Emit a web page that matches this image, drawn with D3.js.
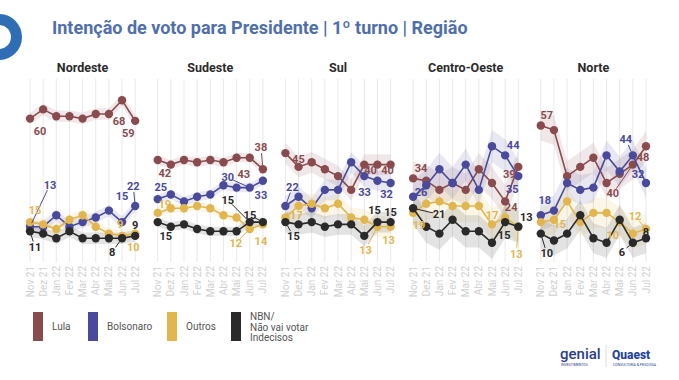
<!DOCTYPE html>
<html><head><meta charset="utf-8">
<script src="https://cdn.jsdelivr.net/npm/d3@7"></script>
<style>
body{margin:0;background:#fff;}
svg{display:block;font-family:Roboto,"Noto Sans",sans-serif;}
</style></head>
<body><svg id="c" width="679" height="380"></svg>
<script>
const months = ["Nov 21","Dez 21","Jan 22","Fev 22","Mar 22","Abr 22","Mai 22","Jun 22","Jul 22"];
const regions = ["Nordeste","Sudeste","Sul","Centro-Oeste","Norte"];
const seriesNames = ["Lula","Bolsonaro","Outros","NBN/ Não vai votar Indecisos"];
const seriesColors = ["#8a4b4f","#4a4a9c","#e2b64e","#2a2a2a"];

const lula      = [[60,64,61,61,60,62,62,68,59],[42,40,42,41,42,41,43,43,38],[45,39,41,38,35,29,40,40,40],[34,33,29,32,29,38,32,24,39],[57,55,35,39,43,32,36,40,48]];
const bolsonaro = [[13,13,18,13,15,17,20,15,22],[25,27,24,26,27,31,30,30,33],[22,26,21,29,29,41,35,33,32],[26,31,38,32,40,29,48,44,35],[18,20,32,29,30,44,37,44,32]];
const outros    = [[15,14,12,16,18,13,10,9,10],[19,21,21,22,21,18,17,12,14],[17,22,23,21,23,17,16,13,13],[19,23,24,22,22,22,14,17,13],[15,16,24,15,19,19,15,10,12]];
const nbn       = [[11,10,8,11,8,8,8,8,9],[15,13,14,12,11,11,11,15,15],[15,14,15,13,14,14,9,15,15],[21,13,10,16,11,11,6,15,13],[10,7,10,18,8,6,16,6,8]];
// margin of error (points) per region, used for shaded bands
const marginOfError = [2.5, 2, 4.5, 7, 6.5];

// label annotations: [region, series, index, text, dx, dy, leader]
const labels = [
 [0,0,0,"60",10,13,0],[0,0,7,"68",-3,21,0],[0,0,8,"59",-7,12,0],
 [0,1,0,"13",20,-42,1],[0,1,7,"15",0,-26,0],[0,1,8,"22",-2,-20,1],
 [0,2,0,"15",5,-12,0],[0,2,7,"9",-2,-12,0],[0,2,8,"10",-2,14,0],
 [0,3,0,"11",5,16,1],[0,3,7,"8",-10,14,1],[0,3,8,"9",0,-11,0],
 [1,0,0,"42",7,13,0],[1,0,7,"43",-6,16,0],[1,0,8,"38",-2,-22,1],
 [1,1,0,"25",3,-12,0],[1,1,7,"30",-22,-10,1],[1,1,8,"33",-2,14,0],
 [1,2,0,"19",7,-9,0],[1,2,7,"12",-14,14,1],[1,2,8,"14",-2,17,0],
 [1,3,0,"15",8,14,0],[1,3,7,"15",-22,-22,1],[1,3,8,"15",-13,-7,1],
 [2,0,0,"45",13,6,0],[2,0,7,"40",-7,6,0],[2,0,8,"40",-3,6,0],
 [2,1,0,"22",7,-19,1],[2,1,7,"33",-13,11,0],[2,1,8,"32",-4,11,0],
 [2,2,0,"17",11,-2,0],[2,2,7,"13",-12,23,1],[2,2,8,"13",-2,13,0],
 [2,3,0,"15",8,14,1],[2,3,7,"15",-3,-12,0],[2,3,8,"15",0,-10,0],
 [3,0,0,"34",8,-10,0],[3,0,7,"24",6,6,0],[3,0,8,"39",-9,7,0],
 [3,1,0,"26",8,-5,0],[3,1,7,"44",8,-10,0],[3,1,8,"35",-6,13,0],
 [3,2,0,"19",6,12,0],[3,2,7,"17",-13,-2,0],[3,2,8,"13",-2,27,1],
 [3,3,0,"21",26,6,1],[3,3,7,"15",-1,13,0],[3,3,8,"13",8,-10,0],
 [4,0,0,"57",6,-10,0],[4,0,7,"40",-20,29,1],[4,0,8,"48",-3,11,0],
 [4,1,0,"18",4,-15,0],[4,1,7,"44",-7,-16,1],[4,1,8,"32",-8,-9,0],
 [4,2,0,"15",19,2,0],[4,2,7,"10",-20,2,0],[4,2,8,"12",-11,-13,1],
 [4,3,0,"10",6,20,1],[4,3,7,"6",-11,9,1],[4,3,8,"8",0,-6,0]
];

const allSeries = [lula, bolsonaro, outros, nbn];
const svg = d3.select("#c");

// decorative ring
svg.append("circle").attr("cx",-1).attr("cy",37).attr("r",17.5)
  .attr("fill","none").attr("stroke","#2f6db5").attr("stroke-width",11);

svg.append("text").attr("x",52).attr("y",34).attr("fill","#4f6fac")
  .attr("font-size",18).attr("font-weight",700)
  .text("Intenção de voto para Presidente | 1º turno | Região");

const y = d3.scaleLinear().domain([0,60]).range([256.6,118.6]);
const panelX0 = 30, panelStep = 127.7, panelW = 105.2;

regions.forEach((reg, r) => {
  const x0 = panelX0 + r*panelStep;
  const x = d3.scalePoint().domain(months).range([x0, x0+panelW]);
  const g = svg.append("g");
  g.append("text").attr("x",x0+panelW/2).attr("y",72).attr("text-anchor","middle")
    .attr("font-size",12.5).attr("font-weight",700).attr("fill","#2b2b2b").text(reg);
  g.selectAll("line.grid").data(months).join("line")
    .attr("x1",d=>x(d)).attr("x2",d=>x(d)).attr("y1",79).attr("y2",262)
    .attr("stroke","#e9e9e9").attr("stroke-width",1);
  g.selectAll("text.m").data(months).join("text")
    .attr("transform",d=>`translate(${x(d)},266) rotate(-90)`)
    .attr("text-anchor","end").attr("dy","0.35em")
    .attr("font-size",10).attr("fill","#cfcfcf").text(d=>d);
  const moe = marginOfError[r];
  allSeries.forEach((s, si) => {
    const vals = s[r];
    const area = d3.area().x((d,i)=>x(months[i])).y0(d=>y(d-moe)).y1(d=>y(d+moe)).curve(d3.curveLinear);
    g.append("path").attr("d",area(vals)).attr("fill",seriesColors[si]).attr("opacity",0.13);
  });
  allSeries.forEach((s, si) => {
    const vals = s[r];
    const line = d3.line().x((d,i)=>x(months[i])).y(d=>y(d));
    g.append("path").attr("d",line(vals)).attr("fill","none")
      .attr("stroke",seriesColors[si]).attr("stroke-width",1.6);
    g.selectAll(null).data(vals).join("circle")
      .attr("cx",(d,i)=>x(months[i])).attr("cy",d=>y(d)).attr("r",4.2)
      .attr("fill",seriesColors[si]);
  });
  labels.filter(l=>l[0]===r).forEach(l => {
    const [, si, idx, txt, dx, dy, leader] = l;
    const px = x(months[idx]), py = y(allSeries[si][r][idx]);
    const lx = px+dx, ly = py+dy;
    const col = seriesColors[si];
    if (leader) {
      const len = Math.hypot(dx,dy);
      const ux = dx/len, uy = dy/len;
      g.append("line").attr("x1",px+ux*4).attr("y1",py+uy*4)
        .attr("x2",lx-ux*6).attr("y2",ly-uy*6)
        .attr("stroke",col).attr("stroke-width",1);
    }
    g.append("text").attr("x",lx).attr("y",ly).attr("dy","0.35em")
      .attr("text-anchor","middle").attr("font-size",11).attr("font-weight",700)
      .attr("fill",col).text(txt);
  });
});

// legend
const legX = [33, 88, 167, 231];
const leg = svg.append("g");
seriesNames.forEach((n,i)=>{
  leg.append("rect").attr("x",legX[i]).attr("y",312).attr("width",10).attr("height",29)
    .attr("fill",seriesColors[i]);
  const lines = i===3 ? ["NBN/","Não vai votar","Indecisos"] : [n];
  lines.forEach((t,k)=>{
    leg.append("text").attr("x",legX[i]+19)
      .attr("y", lines.length===1 ? 330 : 320+k*10.5)
      .attr("font-size",10).attr("fill","#555").text(t);
  });
});

// logos
svg.append("text").attr("x",560).attr("y",359).attr("font-size",15).attr("font-weight",500)
  .attr("fill","#2b3d8f").text("genial");
svg.append("text").attr("x",561).attr("y",366).attr("font-size",3.5).attr("fill","#2b3d8f").text("INVESTIMENTOS");
svg.append("line").attr("x1",606).attr("x2",606).attr("y1",345).attr("y2",367).attr("stroke","#d8dde8");
svg.append("text").attr("x",612).attr("y",359).attr("font-size",12).attr("font-weight",800)
  .attr("fill","#2442a0").text("Quaest");
svg.append("text").attr("x",613).attr("y",366).attr("font-size",3.5).attr("fill","#2442a0").text("CONSULTORIA & PESQUISA");
</script></body></html>
